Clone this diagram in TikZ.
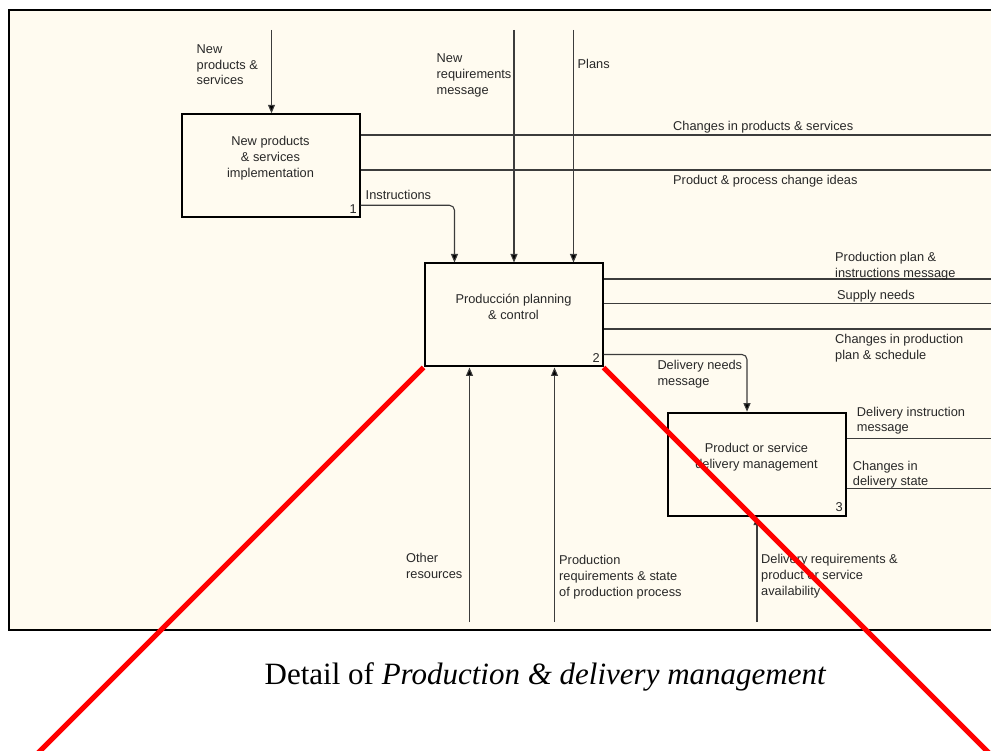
\documentclass[tikz,border=0pt]{standalone}
\usepackage{fontspec}
\setmainfont{Liberation Serif}
\newfontfamily\diafont{Liberation Sans}
\usetikzlibrary{arrows.meta}

\definecolor{paper}{RGB}{255,251,240}
\definecolor{ink}{RGB}{40,40,40}
\definecolor{flowgray}{RGB}{60,60,60}

% multi-line nodes sit on the baseline of their last line
\tikzset{
  activity/.style={draw=black, line width=2pt, minimum width=178pt,
    minimum height=103pt, inner sep=0pt},
  boxtext/.style={font=\diafont\fontsize{12.8}{15.9}\selectfont, text=ink,
    align=center, inner sep=0pt, anchor=base},
  boxnum/.style={font=\diafont\fontsize{12.8}{15.9}\selectfont, text=ink,
    inner sep=0pt, anchor=base east},
  flowlabel/.style={font=\diafont\fontsize{12.8}{15.9}\selectfont, text=ink,
    align=left, inner sep=0pt, anchor=base west},
  flow/.style={draw=flowgray, line width=1.1pt},
  arrowflow/.style={flow, -{Triangle[length=8.5pt,width=7pt,fill=black]}},
  zoomline/.style={draw=red, line width=5pt}
}

\begin{document}
\begin{tikzpicture}[x=1pt,y=-1pt]
\useasboundingbox (0,0) rectangle (991,751);
\begin{scope}
\clip (0,0) rectangle (991,751);
\fill[white] (0,0) rectangle (991,751);

% diagram sheet, running on past the right edge
\draw[line width=2.2pt, fill=paper] (9,10) rectangle (1010,630);

% activities
\node[activity] (b1) at (270.5,165.8) {};
\node[activity] (b2) at (513.5,315) {};
\node[activity] (b3) at (756.5,464.2) {};

\node[boxtext] (b1t) at (270.5,177.5) {New products\\ \& services\\ implementation};
\node[boxtext] (b2t) at (513.5,319.5) {Producción planning\\ \& control};
\node[boxtext] (b3t) at (756.5,468.6) {Product or service\\ delivery management};

\node[boxnum] (n1) at ([xshift=-3.5pt,yshift=5.2pt]b1.south east) {1};
\node[boxnum] (n2) at ([xshift=-3.5pt,yshift=5.2pt]b2.south east) {2};
\node[boxnum] (n3) at ([xshift=-3.5pt,yshift=5.2pt]b3.south east) {3};

% free ends of the arrows
\coordinate (in1) at (271.5,30);
\coordinate (in2) at (514,30);
\coordinate (in3) at (573.5,30);
\coordinate (o1) at (995,135);
\coordinate (o2) at (995,170);
\coordinate (o3) at (995,279);
\coordinate (o4) at (995,303.5);
\coordinate (o5) at (995,329);
\coordinate (o6) at (995,438.3);
\coordinate (o7) at (995,488.3);
\coordinate (c1) at (469.5,622);
\coordinate (c2) at (554.5,622);
\coordinate (c3) at (757,622);

% inputs from above
\draw[arrowflow] (in1) -- (in1 |- b1.north);
\draw[arrowflow] (in2) -- (in2 |- b2.north);
\draw[arrowflow] (in3) -- (in3 |- b2.north);

% links between activities
\draw[arrowflow, rounded corners=5pt] ([yshift=13pt]b1.south east)
  -| ([xshift=31pt]b2.north west);
\draw[arrowflow, rounded corners=5pt] ([yshift=13pt]b2.south east)
  -| ([xshift=80.5pt]b3.north west);

% outputs to the right
\draw[flow] (b1.east |- o1) -- (o1);
\draw[flow] (b1.east |- o2) -- (o2);
\draw[flow] (b2.east |- o3) -- (o3);
\draw[flow] (b2.east |- o4) -- (o4);
\draw[flow] (b2.east |- o5) -- (o5);
\draw[flow] (b3.east |- o6) -- (o6);
\draw[flow] (b3.east |- o7) -- (o7);

% inputs from below
\draw[arrowflow] (c1) -- (c1 |- b2.south);
\draw[arrowflow] (c2) -- (c2 |- b2.south);
\draw[arrowflow] (c3) -- (c3 |- b3.south);

% arrow labels
\node[flowlabel] (l1) at (196.5,85) {New\\ products \&\\ services};
\node[flowlabel] (l2) at (436.5,94.3) {New\\ requirements\\ message};
\node[flowlabel] (l3) at (577.5,68.5) {Plans};
\node[flowlabel] (l4) at (365.5,199.3) {Instructions};
\node[flowlabel] (l5) at (673,130.5) {Changes in products \& services};
\node[flowlabel] (l6) at (673,184.5) {Product \& process change ideas};
\node[flowlabel] (l7) at (835,277.4) {Production plan \&\\ instructions message};
\node[flowlabel] (l8) at (837,299.5) {Supply needs};
\node[flowlabel] (l9) at (835,359.4) {Changes in production\\ plan \& schedule};
\node[flowlabel] (l10) at (657.3,385.8) {Delivery needs\\ message};
\node[flowlabel] (l11) at (856.7,431.9) {Delivery instruction\\ message};
\node[flowlabel] (l12) at (852.7,485.9) {Changes in\\ delivery state};
\node[flowlabel] (l13) at (406,578.4) {Other\\ resources};
\node[flowlabel] (l14) at (559,596.3) {Production\\ requirements \& state\\ of production process};
\node[flowlabel] (l15) at (761,595.3) {Delivery requirements \&\\ product or service\\ availability};

% caption
\node[font=\fontsize{31}{36}\selectfont, anchor=base, inner sep=0pt] (cap)
  at (545.5,684) {Detail of \textit{Production \& delivery management}};

% zoom lines from the detailed activity
\draw[zoomline] (b2.south west) -- ++(-420,420);
\draw[zoomline] (b2.south east) -- ++(420,420);
\end{scope}
\end{tikzpicture}
\end{document}
